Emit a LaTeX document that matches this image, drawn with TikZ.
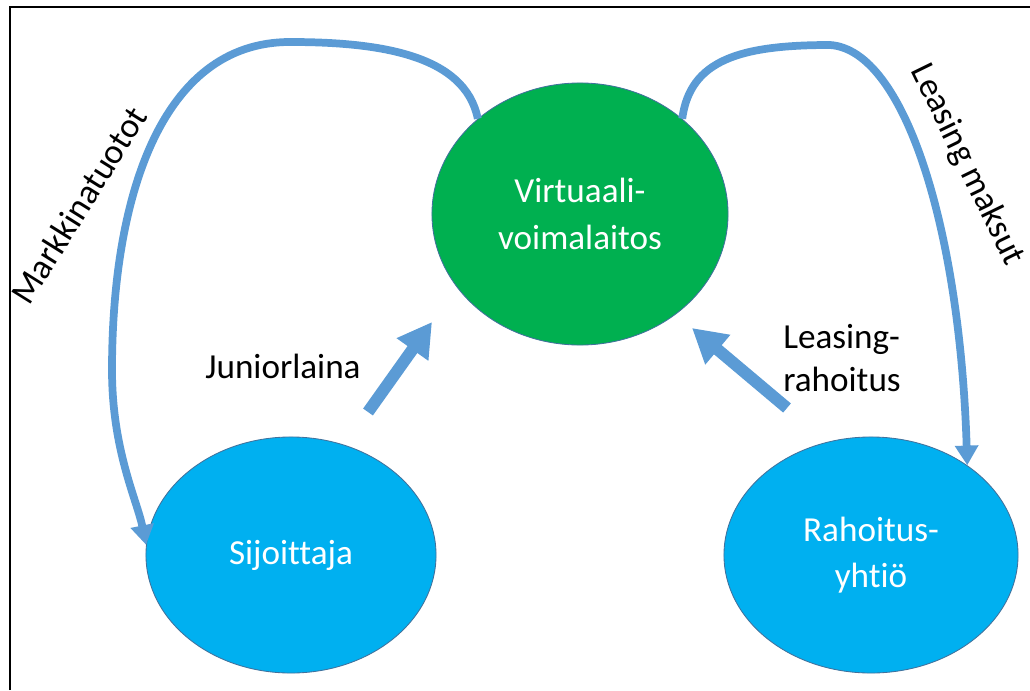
\documentclass[tikz,border=0pt]{standalone}
\usepackage{fontspec}
\setmainfont{Carlito}[Ligatures=NoCommon]
\usetikzlibrary{arrows.meta,shapes.geometric}
\definecolor{leaf}{HTML}{00B050}
\definecolor{sea}{HTML}{00B0F0}
\definecolor{rim}{HTML}{41719C}
\definecolor{flow}{HTML}{5B9BD5}
\tikzset{
  pnode/.style={ellipse,draw=rim,line width=0.6pt,text=white,inner sep=0pt,
    align=center,font=\fontsize{25}{33}\selectfont},
  gnode/.style={pnode,fill=leaf},
  bnode/.style={pnode,fill=sea},
  lbl/.style={text=black,font=\fontsize{25}{31}\selectfont,inner sep=0pt},
  cedge/.style={-{Triangle[length=14pt,width=16pt]},line width=5.5pt,color=flow},
  aedge/.style={-{Triangle[length=24pt,width=26pt]},line width=8.5pt,color=flow},
}

\begin{document}
\begin{tikzpicture}[x=0.025cm,y=-0.025cm]
  \useasboundingbox (0,0) rectangle (1030,690);
  \draw[line width=1pt] (10,690) -- (10,7) -- (1030,7);
  \node[gnode,minimum width=7.4cm,minimum height=6.55cm] (vpp) at (580,214){Virtuaali-\\voimalaitos};
  \node[bnode,minimum width=7.25cm,minimum height=5.9cm] (sij) at (291,555){Sijoittaja};
  \node[bnode,minimum width=7.35cm,minimum height=5.9cm] (rah) at (871,555){Rahoitus-\\yhtiö};
  % market returns and leasing payments
  \draw[cedge] (vpp.137) .. controls (465,55) and (380,42) .. (290,42)
    .. controls (160,42) and (112,200) .. (112,370)
    .. controls (112,450) and (137,500) .. (sij.176);
  \draw[cedge] (vpp.43) .. controls (690,60) and (740,45) .. (830,45)
    .. controls (905,50) and (960,230) .. (rah.43);
  \node[lbl,rotate=58] (mlab) at (79,205){Markkinatuotot};
  \node[lbl,rotate=-64] (llab) at (967,165){Leasing maksut};
  % financing
  \coordinate (jtail) at (368,412); \coordinate (jtip) at (432,322);
  \coordinate (rtail) at (787,408); \coordinate (rtip) at (692,328);
  \draw[aedge] (jtail) -- (jtip);
  \draw[aedge] (rtail) -- (rtip);
  \node[lbl] (jlab) at (283,366){Juniorlaina};
  \node[lbl,anchor=west,align=left] (rlab) at (783,358){Leasing-\\rahoitus};
\end{tikzpicture}
\end{document}
